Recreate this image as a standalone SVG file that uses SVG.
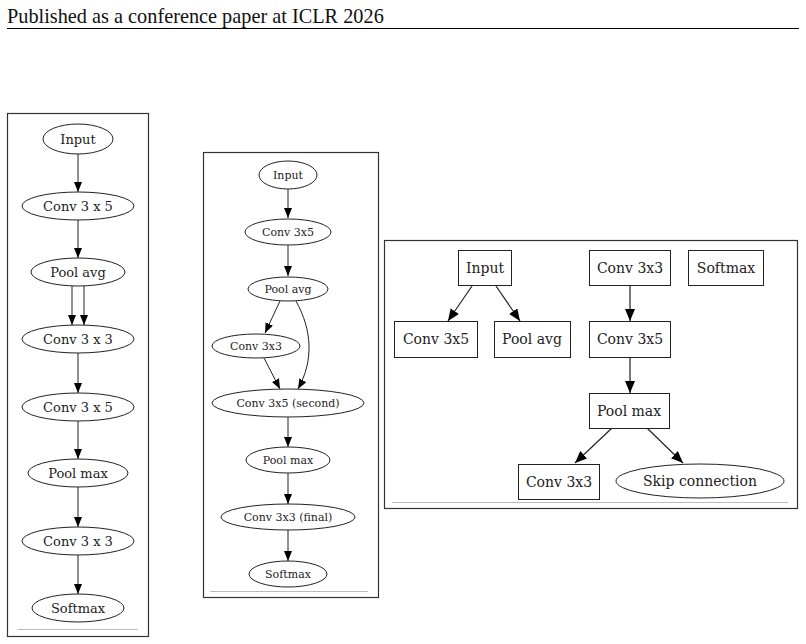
<svg xmlns="http://www.w3.org/2000/svg" width="806" height="644" viewBox="0 0 806 644">
<defs>
<marker id="ah" viewBox="0 0 10 8" refX="10" refY="4" markerWidth="10" markerHeight="8" markerUnits="userSpaceOnUse" orient="auto">
<path d="M0,0 L10,4 L0,8 z" fill="#000"/>
</marker>
<marker id="ah3" viewBox="0 0 12 10" refX="12" refY="5" markerWidth="12" markerHeight="10" markerUnits="userSpaceOnUse" orient="auto">
<path d="M0,0 L12,5 L0,10 z" fill="#000"/>
</marker>
<style>
.frame{fill:#fff;stroke:#333;stroke-width:1.2}
.foot{stroke:#bbb;stroke-width:1}
.n{fill:#fff;stroke:#222;stroke-width:1}
.e{fill:none;stroke:#222;stroke-width:1;marker-end:url(#ah)}
.e3{fill:none;stroke:#222;stroke-width:1.2;marker-end:url(#ah3)}
text{font-family:"DejaVu Serif",serif;fill:#222;text-anchor:middle;dominant-baseline:central}
.t1{font-size:13px}
.t2{font-size:11px}
.t3{font-size:14px}
.hdr{font-family:"Liberation Serif",serif;font-size:20.3px;text-anchor:start;dominant-baseline:auto;fill:#111}
</style>
</defs>
<rect width="806" height="644" fill="#fff"/>
<text class="hdr" x="7" y="22.5">Published as a conference paper at ICLR 2026</text>
<line x1="7" y1="28.5" x2="799" y2="28.5" stroke="#000" stroke-width="1"/>

<!-- Panel 1 -->
<g id="panel1">
<rect class="frame" x="7.5" y="113.5" width="141" height="523"/>
<line class="foot" x1="18" y1="629.5" x2="138" y2="629.5"/>
<g id="p1-edges">
<line class="e" x1="78" y1="154" x2="78" y2="192"/>
<line class="e" x1="78" y1="220" x2="78" y2="258"/>
<line class="e" x1="72" y1="286" x2="72" y2="325"/>
<line class="e" x1="84" y1="286" x2="84" y2="325"/>
<line class="e" x1="78" y1="353" x2="78" y2="393"/>
<line class="e" x1="78" y1="421" x2="78" y2="459"/>
<line class="e" x1="78" y1="487" x2="78" y2="527"/>
<line class="e" x1="78" y1="555" x2="78" y2="594"/>
</g>
<g id="p1-input"><ellipse class="n" cx="78" cy="139" rx="35" ry="15"/><text class="t1" x="78" y="139">Input</text></g>
<g id="p1-conv35a"><ellipse class="n" cx="78" cy="206" rx="56" ry="14"/><text class="t1" x="78" y="206">Conv 3 x 5</text></g>
<g id="p1-poolavg"><ellipse class="n" cx="78" cy="272" rx="47" ry="14"/><text class="t1" x="78" y="272">Pool avg</text></g>
<g id="p1-conv33a"><ellipse class="n" cx="78" cy="339" rx="56" ry="14"/><text class="t1" x="78" y="339">Conv 3 x 3</text></g>
<g id="p1-conv35b"><ellipse class="n" cx="78" cy="407" rx="56" ry="14"/><text class="t1" x="78" y="407">Conv 3 x 5</text></g>
<g id="p1-poolmax"><ellipse class="n" cx="78" cy="473" rx="50" ry="14"/><text class="t1" x="78" y="473">Pool max</text></g>
<g id="p1-conv33b"><ellipse class="n" cx="78" cy="541" rx="56" ry="14"/><text class="t1" x="78" y="541">Conv 3 x 3</text></g>
<g id="p1-softmax"><ellipse class="n" cx="78" cy="608" rx="46" ry="14"/><text class="t1" x="78" y="608">Softmax</text></g>
</g>

<!-- Panel 2 -->
<g id="panel2">
<rect class="frame" x="203.5" y="152.5" width="175" height="445"/>
<line class="foot" x1="210" y1="591.5" x2="368" y2="591.5"/>
<g id="p2-edges">
<line class="e" x1="288" y1="189" x2="288" y2="218"/>
<line class="e" x1="288" y1="245" x2="288" y2="276"/>
<line class="e" x1="280" y1="301" x2="265" y2="333"/>
<path class="e" d="M296,301 C312,330 314,360 298,389"/>
<line class="e" x1="264" y1="358" x2="280" y2="389"/>
<line class="e" x1="288" y1="417" x2="288" y2="447"/>
<line class="e" x1="288" y1="473" x2="288" y2="504"/>
<line class="e" x1="288" y1="530" x2="288" y2="561"/>
</g>
<g id="p2-input"><ellipse class="n" cx="288" cy="175" rx="29" ry="14"/><text class="t2" x="288" y="175">Input</text></g>
<g id="p2-conv35"><ellipse class="n" cx="288" cy="232" rx="43" ry="13"/><text class="t2" x="288" y="232">Conv 3x5</text></g>
<g id="p2-poolavg"><ellipse class="n" cx="288" cy="289" rx="40" ry="12"/><text class="t2" x="288" y="289">Pool avg</text></g>
<g id="p2-conv33"><ellipse class="n" cx="256" cy="346" rx="44" ry="12"/><text class="t2" x="256" y="346">Conv 3x3</text></g>
<g id="p2-conv35s"><ellipse class="n" cx="288" cy="403" rx="76" ry="14"/><text class="t2" x="288" y="403">Conv 3x5 (second)</text></g>
<g id="p2-poolmax"><ellipse class="n" cx="288" cy="460" rx="42" ry="13"/><text class="t2" x="288" y="460">Pool max</text></g>
<g id="p2-conv33f"><ellipse class="n" cx="288" cy="517" rx="67" ry="13"/><text class="t2" x="288" y="517">Conv 3x3 (final)</text></g>
<g id="p2-softmax"><ellipse class="n" cx="288" cy="574" rx="39" ry="13"/><text class="t2" x="288" y="574">Softmax</text></g>
</g>

<!-- Panel 3 -->
<g id="panel3">
<rect class="frame" x="384.5" y="240.5" width="413" height="268"/>
<line class="foot" x1="392" y1="502.5" x2="788" y2="502.5"/>
<g id="p3-edges">
<line class="e3" x1="472" y1="286" x2="448" y2="321"/>
<line class="e3" x1="496" y1="286" x2="520" y2="321"/>
<line class="e3" x1="630" y1="285" x2="630" y2="321"/>
<line class="e3" x1="630" y1="357" x2="630" y2="393"/>
<line class="e3" x1="612" y1="428" x2="575" y2="463"/>
<line class="e3" x1="647" y1="428" x2="683" y2="463"/>
</g>
<g id="p3-input"><rect class="n" x="458.5" y="250.5" width="53" height="35"/><text class="t3" x="485" y="268">Input</text></g>
<g id="p3-conv33top"><rect class="n" x="589.5" y="250.5" width="81" height="35"/><text class="t3" x="630" y="268">Conv 3x3</text></g>
<g id="p3-softmax"><rect class="n" x="688.5" y="250.5" width="75" height="35"/><text class="t3" x="726" y="268">Softmax</text></g>
<g id="p3-conv35left"><rect class="n" x="394.5" y="321.5" width="83" height="36"/><text class="t3" x="436" y="339">Conv 3x5</text></g>
<g id="p3-poolavg"><rect class="n" x="494.5" y="321.5" width="76" height="36"/><text class="t3" x="532" y="339">Pool avg</text></g>
<g id="p3-conv35mid"><rect class="n" x="589.5" y="321.5" width="81" height="36"/><text class="t3" x="630" y="339">Conv 3x5</text></g>
<g id="p3-poolmax"><rect class="n" x="589.5" y="393.5" width="80" height="35"/><text class="t3" x="629" y="411">Pool max</text></g>
<g id="p3-conv33bot"><rect class="n" x="518.5" y="464.5" width="81" height="35"/><text class="t3" x="559" y="482">Conv 3x3</text></g>
<g id="p3-skip"><ellipse class="n" cx="700" cy="481" rx="84" ry="17"/><text class="t3" x="700" y="481">Skip connection</text></g>
</g>
</svg>
